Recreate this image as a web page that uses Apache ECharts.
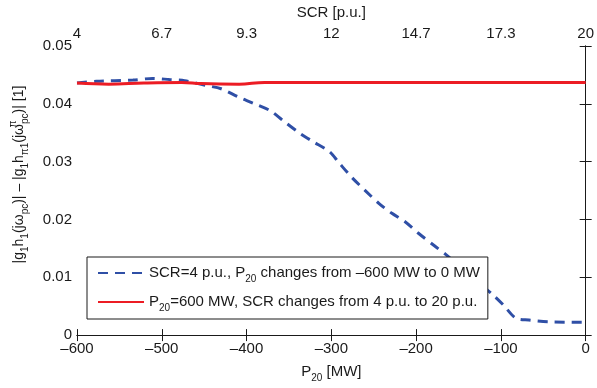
<!DOCTYPE html>
<html>
<head>
<meta charset="utf-8">
<script src="https://cdn.jsdelivr.net/npm/echarts@6/dist/echarts.min.js"></script>
<style>
  html, body { margin: 0; padding: 0; background: #fff; }
  #chart { width: 597px; height: 388px; }
</style>
</head>
<body>
<div id="chart"></div>
<script>
// dashed curve: SCR = 4 p.u., P20 swept from -600 MW to 0 MW
const p20Values = [-600, -577, -534, -511, -491, -473, -449, -430, -410, -392, -372, -357, -337, -322, -302, -291, -276, -260, -244, -229, -213, -198, -178, -163, -136, -109, -97, -82, -67, -44, 0];
const dashedValues = [0.0436, 0.0439, 0.0441, 0.0444, 0.0442, 0.0440, 0.0432, 0.0426, 0.0412, 0.0401, 0.0388, 0.0371, 0.0349, 0.0335, 0.0317, 0.0298, 0.0273, 0.0250, 0.0228, 0.0211, 0.0196, 0.0177, 0.0154, 0.0137, 0.0103, 0.0069, 0.0052, 0.0029, 0.0026, 0.0023, 0.0022];

// solid curve: P20 = 600 MW, SCR swept from 4 p.u. to 20 p.u.
const scrValues = [4, 5, 6.1, 7.3, 7.9, 9.1, 9.9, 12, 16, 20];
const solidValues = [0.0436, 0.0434, 0.0436, 0.0437, 0.0435, 0.0434, 0.0437, 0.0437, 0.0437, 0.0437];

const yTicks = [0, 0.01, 0.02, 0.03, 0.04, 0.05];

const chart = echarts.init(document.getElementById('chart'));
const font = 'Liberation Sans, Arial, Helvetica, sans-serif';
const black = '#1a1a1a';

const subStyle = { fontSize: 10, lineHeight: 12, verticalAlign: 'bottom', fontFamily: font, color: black };
const supStyle = { fontSize: 10, lineHeight: 12, verticalAlign: 'top', width: 0, fontFamily: font, color: black };

const dash = (v) => String(v).replace('-', '\u2013');

const legendText = {
  dashed: 'SCR=4 p.u., P{sub|20} changes from \u2013600 MW to 0 MW',
  solid: 'P{sub|20}=600 MW, SCR changes from 4 p.u. to 20 p.u.'
};

const axisLine = { show: true, lineStyle: { color: black, width: 1 } };
const axisTick = { show: true, inside: true, length: 6, lineStyle: { color: black } };

chart.setOption({
  animation: false,
  backgroundColor: '#fff',
  textStyle: { fontFamily: font },
  grid: { left: 73, right: 6, top: 43, bottom: 51 },
  legend: {
    orient: 'vertical',
    left: 87,
    top: 257,
    data: ['dashed', 'solid'],
    backgroundColor: '#fff',
    borderColor: black,
    borderWidth: 1,
    padding: [5, 8, 6, 10],
    itemWidth: 46,
    itemHeight: 14,
    itemGap: 7,
    itemStyle: { opacity: 0 },
    formatter: (name) => legendText[name],
    textStyle: { fontSize: 15, lineHeight: 22, color: black, fontFamily: font, rich: { sub: subStyle } }
  },
  xAxis: [
    {
      type: 'value',
      position: 'bottom',
      min: -600, max: 0, interval: 100,
      name: 'P{sub|20} [MW]',
      nameLocation: 'middle',
      nameGap: 20,
      nameTextStyle: { fontSize: 15, lineHeight: 22, color: black, rich: { sub: subStyle } },
      axisLine, axisTick,
      splitLine: { show: false },
      axisLabel: { color: black, fontSize: 15, margin: 6, formatter: dash }
    },
    {
      type: 'value',
      position: 'top',
      min: 4, max: 20, interval: 16 / 6,
      name: 'SCR [p.u.]',
      nameLocation: 'middle',
      nameGap: 26,
      nameTextStyle: { fontSize: 15, color: black },
      axisLine, axisTick,
      splitLine: { show: false },
      axisLabel: { color: black, fontSize: 15, margin: 5, formatter: (v) => String(Math.round(v * 10) / 10) }
    }
  ],
  yAxis: [
    {
      type: 'value',
      position: 'left',
      min: yTicks[0], max: yTicks[yTicks.length - 1], interval: 0.01,
      name: '|g{sub|1}h{sub|1}(j\u03c9{sub|pc})| \u2013 |g{sub|1}h{sub|\u03c01}(j\u03c9{sup|\u03c0}{sub|pc})| [1]',
      nameLocation: 'middle',
      nameRotate: 90,
      nameGap: 47,
      nameTextStyle: { fontSize: 14, lineHeight: 22, color: black, padding: [0, 0, 0, 32], rich: { sub: subStyle, sup: supStyle } },
      axisLine, axisTick,
      splitLine: { show: false },
      axisLabel: { color: black, fontSize: 15, margin: 5, formatter: (v) => String(+v.toFixed(2)) }
    },
    {
      type: 'value',
      position: 'right',
      min: yTicks[0], max: yTicks[yTicks.length - 1], interval: 0.01,
      axisLine, axisTick,
      splitLine: { show: false },
      axisLabel: { show: false }
    }
  ],
  series: [
    {
      name: 'dashed',
      type: 'line',
      xAxisIndex: 0,
      yAxisIndex: 0,
      data: p20Values.map((p, i) => [p, dashedValues[i]]),
      smooth: 0.3,
      showSymbol: false,
      symbol: 'none',
      lineStyle: { color: '#2f4fa6', width: 3, type: [10, 7] },
      itemStyle: { color: '#2f4fa6' },
      z: 2
    },
    {
      name: 'solid',
      type: 'line',
      xAxisIndex: 1,
      yAxisIndex: 0,
      data: scrValues.map((s, i) => [s, solidValues[i]]),
      smooth: 0.4,
      showSymbol: false,
      symbol: 'none',
      lineStyle: { color: '#ec1c24', width: 3 },
      itemStyle: { color: '#ec1c24' },
      z: 3
    }
  ]
});
</script>
</body>
</html>
